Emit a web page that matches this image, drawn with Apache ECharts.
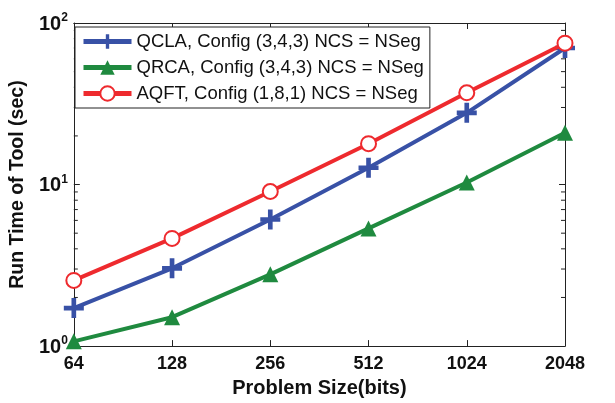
<!DOCTYPE html>
<html><head><meta charset="utf-8">
<script src="https://cdn.jsdelivr.net/npm/echarts@6/dist/echarts.min.js"></script>
<style>html,body{margin:0;padding:0;background:#fff}#c{width:615px;height:403px}</style>
</head><body><div id="c"></div>
<script>
const categories = ['64', '128', '256', '512', '1024', '2048'];
const qclaValues = [1.72, 3.03, 6.08, 12.7, 27.8, 70];
const qrcaValues = [1.07, 1.51, 2.78, 5.35, 10.3, 20.9];
const aqftValues = [2.55, 4.64, 9.06, 17.9, 37, 75];
const seriesNames = ['QCLA, Config (3,4,3) NCS = NSeg', 'QRCA, Config (3,4,3) NCS = NSeg', 'AQFT, Config (1,8,1) NCS = NSeg'];
const minorTickValues = [2,3,4,5,6,7,8,9,20,30,40,50,60,70,80,90];

const blue = '#3851a6', green = '#1f8a3f', red = '#ee2a2e';
const font = 'Liberation Sans, Arial, sans-serif';
const chart = echarts.init(document.getElementById('c'));
const plus = 'path://M-1.4,-6H1.4V-1.4H6V1.4H1.4V6H-1.4V1.4H-6V-1.4H-1.4Z';

const tickCfg = {show: true, inside: true, length: 6, lineStyle: {color: '#222', width: 1}};
chart.setOption({
  animation: false,
  grid: {left: 71, right: 50, top: 23, bottom: 56, show: false},
  legend: {
    data: seriesNames,
    orient: 'vertical', left: 75, top: 27,
    itemWidth: 48, itemHeight: 18, itemGap: 7,
    padding: [5, 6, 5, 6],
    borderColor: '#222', borderWidth: 1, backgroundColor: '#fff',
    lineStyle: {width: 5},
    textStyle: {fontFamily: font, fontSize: 18.5, color: '#111'}
  },
  xAxis: [{
    type: 'category', data: categories, boundaryGap: false,
    axisLine: {show: true, onZero: false, lineStyle: {color: '#222'}},
    axisTick: tickCfg,
    axisLabel: {fontFamily: font, fontWeight: 'bold', fontSize: 18, color: '#111', margin: 9},
    name: 'Problem Size(bits)', nameLocation: 'middle', nameGap: 26,
    nameTextStyle: {fontFamily: font, fontWeight: 'bold', fontSize: 20, color: '#111'}
  }, {
    type: 'category', data: categories, boundaryGap: false, position: 'top',
    axisLine: {show: true, onZero: false, lineStyle: {color: '#222'}},
    axisTick: tickCfg, axisLabel: {show: false}
  }],
  yAxis: [{
    type: 'log', logBase: 10, min: 1, max: 100,
    axisLine: {show: true, lineStyle: {color: '#222'}},
    axisTick: tickCfg,
    splitLine: {show: false},
    axisLabel: {
      margin: 6,
      formatter: v => '{b|10}{s|' + Math.round(Math.log10(v)) + '}',
      rich: {
        b: {fontFamily: font, fontWeight: 'bold', fontSize: 20, color: '#111', verticalAlign: 'bottom'},
        s: {fontFamily: font, fontWeight: 'bold', fontSize: 12, color: '#111', verticalAlign: 'top', padding: [0, 0, 10, 0]}
      }
    },
    name: 'Run Time of Tool (sec)', nameLocation: 'middle', nameGap: 43,
    nameTextStyle: {fontFamily: font, fontWeight: 'bold', fontSize: 19.5, color: '#111'}
  }, {
    type: 'log', logBase: 10, min: 1, max: 100, position: 'right',
    axisLine: {show: true, lineStyle: {color: '#222'}},
    axisTick: tickCfg, axisLabel: {show: false}, splitLine: {show: false}
  }],
  series: [{
    name: seriesNames[0], type: 'line', data: qclaValues,
    symbol: plus, symbolSize: 20, z: 3,
    lineStyle: {color: blue, width: 4}, itemStyle: {color: blue}
  }, {
    name: seriesNames[1], type: 'line', data: qrcaValues,
    symbol: 'triangle', symbolSize: 16, z: 2,
    lineStyle: {color: green, width: 4}, itemStyle: {color: green}
  }, {
    name: seriesNames[2], type: 'line', data: aqftValues,
    symbol: 'emptyCircle', symbolSize: 15, z: 4,
    lineStyle: {color: red, width: 4}, itemStyle: {color: red, borderColor: red, borderWidth: 3.5}
  }, {
    type: 'custom', silent: true, z: 1,
    data: minorTickValues.map(v => [0, v]),
    encode: {x: 0, y: 1},
    renderItem: (params, api) => {
      const cs = params.coordSys;
      const y = api.coord([api.value(0), api.value(1)])[1];
      const st = {stroke: '#222', lineWidth: 1};
      return {type: 'group', children: [
        {type: 'line', shape: {x1: cs.x, y1: y, x2: cs.x + 4, y2: y}, style: st},
        {type: 'line', shape: {x1: cs.x + cs.width, y1: y, x2: cs.x + cs.width - 4, y2: y}, style: st}
      ]};
    }
  }]
});
</script></body></html>
